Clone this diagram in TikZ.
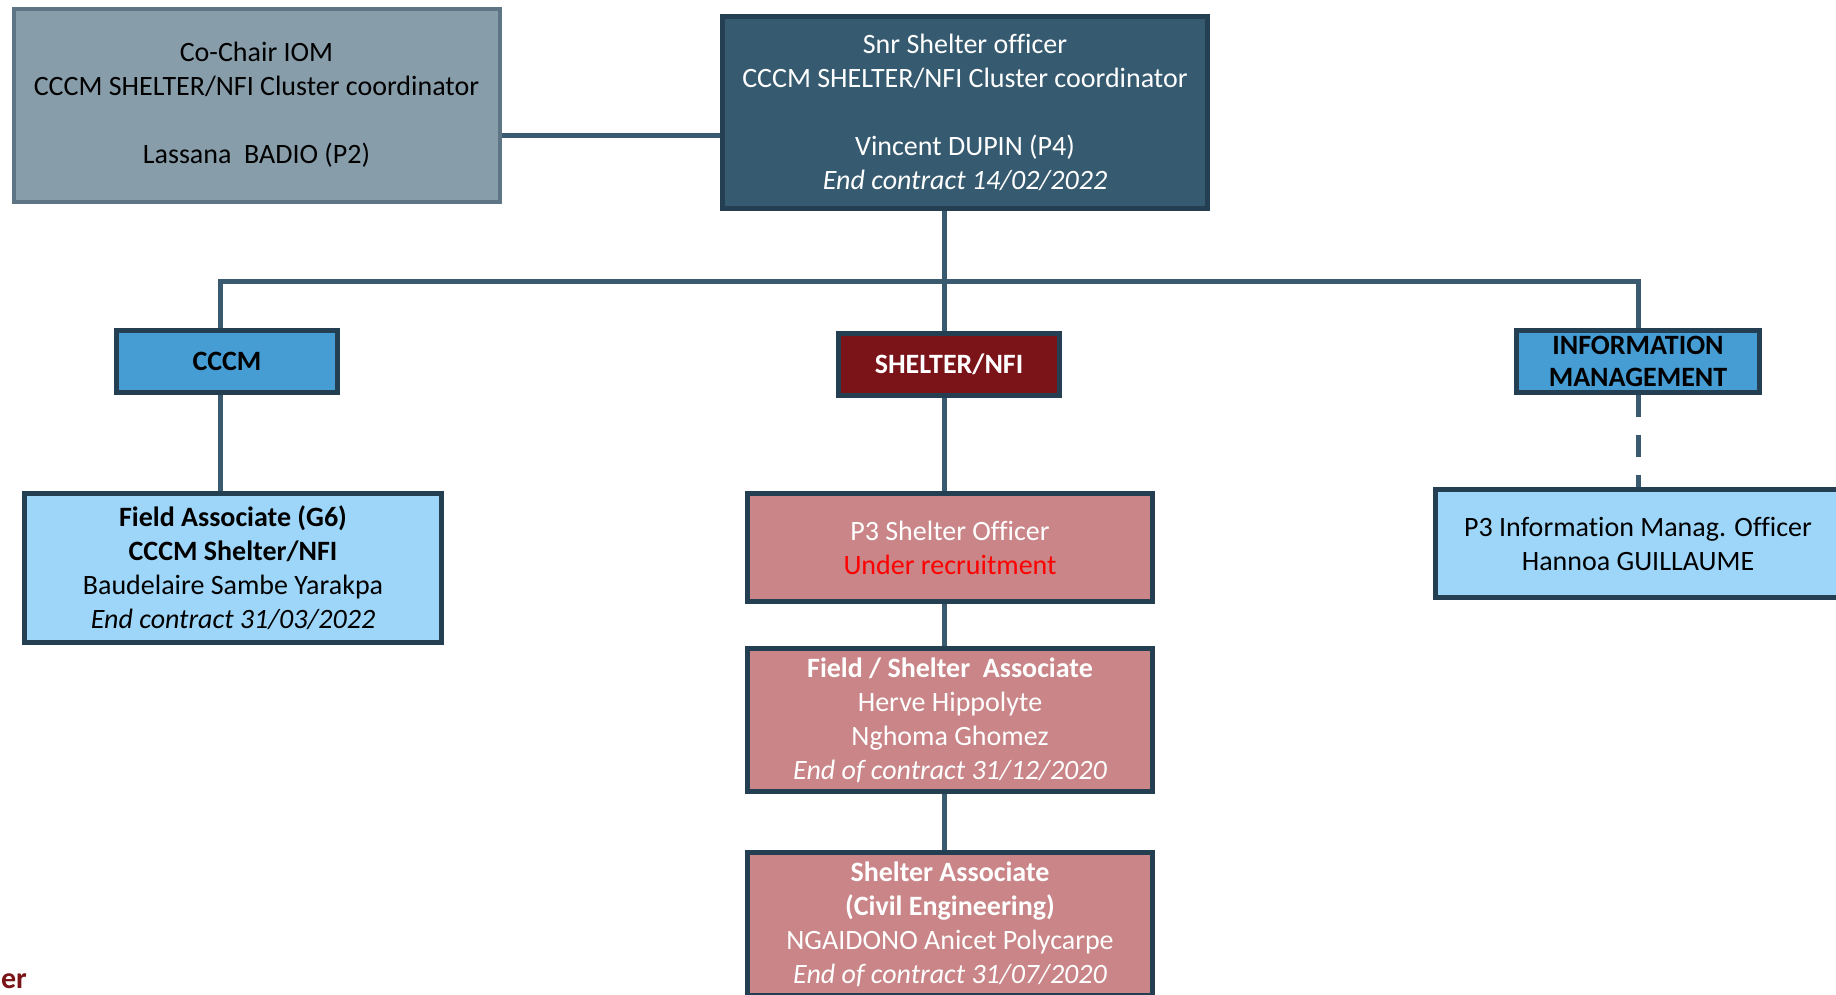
\documentclass[tikz,border=0pt]{standalone}
\usepackage{fontspec}
\setmainfont{Carlito}[Ligatures=NoCommon]
\definecolor{linec}{HTML}{3A5A70}
\definecolor{darkb}{HTML}{253F52}
\definecolor{cochairfill}{HTML}{879DAA}
\definecolor{cochairdraw}{HTML}{5E7585}
\definecolor{snrfill}{HTML}{365B70}
\definecolor{midblue}{HTML}{459DD4}
\definecolor{lightblue}{HTML}{9DD6F9}
\definecolor{shelterred}{HTML}{7B1418}
\definecolor{pink}{HTML}{C98587}
\definecolor{redtext}{HTML}{FF0000}
\begin{document}
\begin{tikzpicture}[x=1pt,y=-1pt,
  box/.style={draw=darkb, line width=5pt, rectangle, align=center, inner sep=0pt,
    font=\fontsize{28}{34}\selectfont},
  hdr/.style={font=\fontsize{28}{32}\selectfont\bfseries},
  conn/.style={draw=linec, line width=5pt}]
\useasboundingbox (0,0) rectangle (1836,994);
\fill[white] (0,0) rectangle (1836,994);

\node[box, draw=cochairdraw, line width=4pt, fill=cochairfill, minimum width=486pt, minimum height=193pt] (cochair) at (256.5,105)
  {Co-Chair IOM\\CCCM SHELTER/NFI Cluster coordinator\\[34pt]Lassana\ \ BADIO (P2)};
\node[box, fill=snrfill, text=white, minimum width=485pt, minimum height=192pt] (snr) at (965,112.5)
  {Snr Shelter officer\\CCCM SHELTER/NFI Cluster coordinator\\[34pt]Vincent DUPIN (P4)\\\textit{End contract 14/02/2022}};

\node[box, hdr, fill=midblue, minimum width=221pt, minimum height=62pt] (cccm) at (227,361.5) {CCCM};
\node[box, hdr, fill=shelterred, text=white, minimum width=221pt, minimum height=62pt] (shelter) at (949,364.5) {SHELTER/NFI};
\node[box, hdr, fill=midblue, minimum width=243pt, minimum height=62pt] (info) at (1638,361.5) {INFORMATION\\MANAGEMENT};

\node[box, fill=lightblue, minimum width=417pt, minimum height=149pt] (fa) at (233,568)
  {\textbf{Field Associate (G6)}\\\textbf{CCCM Shelter/NFI}\\Baudelaire Sambe Yarakpa\\\textit{End contract 31/03/2022}};
\node[box, fill=pink, text=white, minimum width=405pt, minimum height=108pt] (p3) at (950,547.5)
  {P3 Shelter Officer\\\textcolor{redtext}{Under recruitment}};
\node[box, fill=pink, text=white, minimum width=405pt, minimum height=143pt] (fsa) at (950,720)
  {\textbf{Field / Shelter\ \ Associate}\\Herve Hippolyte\\Nghoma Ghomez\\\textit{End of contract 31/12/2020}};
\node[box, fill=pink, text=white, minimum width=405pt, minimum height=143pt] (sa) at (950,924)
  {\textbf{Shelter Associate}\\\textbf{(Civil Engineering)}\\NGAIDONO Anicet Polycarpe\\\textit{End of contract 31/07/2020}};
\node[box, fill=lightblue, minimum width=405pt, minimum height=108pt] (p3i) at (1638,543.5)
  {P3 Information Manag. Officer\\Hannoa GUILLAUME};

\node[anchor=base east, inner sep=0pt, text=shelterred, font=\fontsize{30}{30}\selectfont\bfseries] (er) at (27,988) {er};

\coordinate (hy) at (0,135);
\coordinate (bus) at (0,281);
\coordinate (xl) at (220,0);
\coordinate (xm) at (944,0);
\coordinate (xr) at (1638,0);

\draw[conn] (cochair.east |- hy) -- (snr.west |- hy);
\draw[conn] (xm |- snr.south) -- (xm |- bus);
\draw[conn] (xl |- cccm.north) -- (xl |- bus) -- (xr |- bus) -- (xr |- info.north);
\draw[conn] (xm |- bus) -- (xm |- shelter.north);
\draw[conn] (xl |- cccm.south) -- (xl |- fa.north);
\draw[conn] (xm |- shelter.south) -- (xm |- p3.north);
\draw[conn] (xm |- p3.south) -- (xm |- fsa.north);
\draw[conn] (xm |- fsa.south) -- (xm |- sa.north);
\draw[conn, dash pattern=on 22pt off 18pt] (xr |- info.south) -- (xr |- p3i.north);
\end{tikzpicture}
\end{document}
